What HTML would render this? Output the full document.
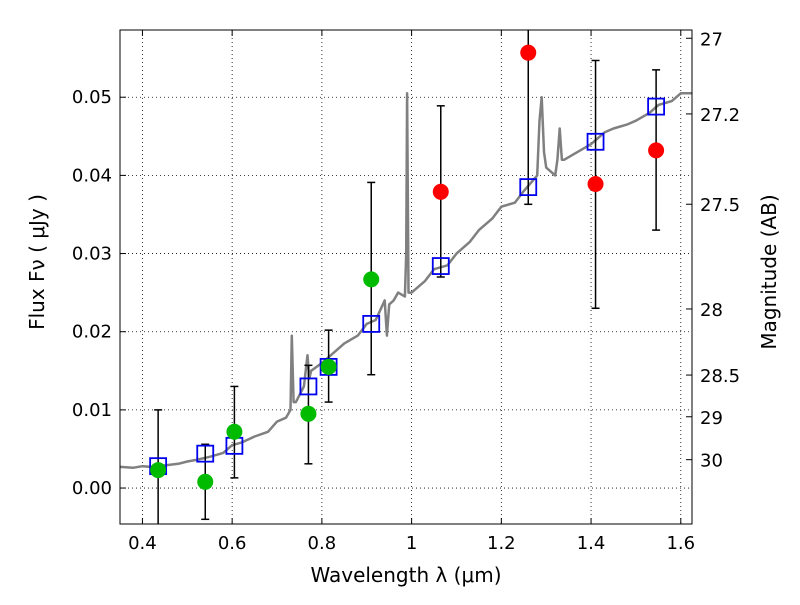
<!DOCTYPE html>
<html><head><meta charset="utf-8"><style>
body{margin:0;background:#fff;}
svg text{font-family:"DejaVu Sans","Liberation Sans",sans-serif;}
</style></head><body>
<svg id="chart" width="800" height="600" xmlns="http://www.w3.org/2000/svg">
<defs><clipPath id="pc"><rect x="120" y="30" width="572" height="494"/></clipPath></defs>
<rect width="800" height="600" fill="#fff"/>
<g id="grid"></g><g id="spec" clip-path="url(#pc)"></g><g id="marks" clip-path="url(#pc)"></g><g id="axes"></g>
</svg>
<script>
const xTicks=[0.4,0.6,0.8,1,1.2,1.4,1.6];
const xTickLabels=["0.4","0.6","0.8","1","1.2","1.4","1.6"];
const yTicks=[0,0.01,0.02,0.03,0.04,0.05];
const yTickLabels=["0.00","0.01","0.02","0.03","0.04","0.05"];
const magTicks=[27,27.2,27.5,28,28.5,29,30];
const magLabels=["27","27.2","27.5","28","28.5","29","30"];
const obsWave=[0.435,0.54,0.605,0.77,0.815,0.91,1.065,1.26,1.41,1.545];
const obsFlux=[0.0023,0.0008,0.0072,0.0095,0.0155,0.0267,0.0379,0.0557,0.0389,0.0432];
const obsHi=[0.0100,0.0056,0.0130,0.0157,0.0202,0.0391,0.0489,0.0760,0.0547,0.0535];
const obsLo=[-0.0060,-0.0040,0.0013,0.0031,0.0110,0.0145,0.0270,0.0363,0.0230,0.0330];
const obsColor=["#00bb00","#00bb00","#00bb00","#00bb00","#00bb00","#00bb00","red","red","red","red"];
const modelFlux=[0.0028,0.0044,0.0054,0.0130,0.0155,0.0210,0.0284,0.0385,0.0443,0.0488];
const specWave=[0.35,0.38,0.4,0.42,0.45,0.48,0.5,0.52,0.55,0.58,0.6,0.62,0.65,0.68,0.7,0.72,0.73,0.733,0.737,0.742,0.76,0.768,0.772,0.776,0.8,0.82,0.85,0.88,0.9,0.92,0.94,0.945,0.95,0.96,0.97,0.985,0.988,0.99,0.993,1.0,1.03,1.05,1.08,1.1,1.13,1.15,1.18,1.2,1.23,1.25,1.28,1.285,1.29,1.295,1.3,1.32,1.325,1.33,1.335,1.34,1.37,1.4,1.43,1.45,1.48,1.5,1.53,1.55,1.58,1.6,1.625];
const specFlux=[0.0027,0.0026,0.0028,0.0027,0.0029,0.0031,0.0034,0.0036,0.0040,0.0045,0.0055,0.0058,0.0066,0.0072,0.0085,0.0090,0.0100,0.0195,0.0110,0.0110,0.0130,0.0170,0.0140,0.0150,0.0160,0.0170,0.0185,0.0195,0.0210,0.0215,0.0240,0.0195,0.0235,0.0240,0.0250,0.0245,0.0300,0.0505,0.0250,0.0250,0.0265,0.0280,0.0285,0.0300,0.0315,0.0330,0.0345,0.0360,0.0365,0.0380,0.0400,0.0470,0.0500,0.0430,0.0410,0.0400,0.0420,0.0460,0.0420,0.0420,0.0430,0.0440,0.0455,0.0460,0.0465,0.0470,0.0480,0.0490,0.0495,0.0505,0.0505];
const L=120,R=692,T=30,B=524,xmin=0.35,xmax=1.625,ymin=-0.0046,ymax=0.0586;
const X=v=>L+(v-xmin)/(xmax-xmin)*(R-L);
const Y=v=>B-(v-ymin)/(ymax-ymin)*(B-T);
const M=m=>Y(Math.pow(10,(23.9-m)/2.5));
const NS="http://www.w3.org/2000/svg";
function mk(p,tag,a,txt){const e=document.createElementNS(NS,tag);for(const k in a)e.setAttribute(k,a[k]);if(txt!==undefined)e.textContent=txt;document.getElementById(p).appendChild(e);return e;}
xTicks.forEach((t,i)=>{
 let g=mk('grid','line',{x1:X(t),x2:X(t),y1:T,y2:B,stroke:'#000','stroke-dasharray':'1,3','stroke-width':0.8});
 
 
 mk('axes','line',{x1:X(t),x2:X(t),y1:B,y2:B-6,stroke:'#000'});
 mk('axes','line',{x1:X(t),x2:X(t),y1:T,y2:T+6,stroke:'#000'});
 let tx=mk('axes','text',{x:X(t),y:B+25,'text-anchor':'middle','font-size':18},xTickLabels[i]);
 
 
});
yTicks.forEach((t,i)=>{
 let g=mk('grid','line',{x1:L,x2:R,y1:Y(t),y2:Y(t),stroke:'#000','stroke-dasharray':'1,3','stroke-width':0.8});
 
 
 mk('axes','line',{x1:L,x2:L+6,y1:Y(t),y2:Y(t),stroke:'#000'});
 let tx=mk('axes','text',{x:L-8,y:Y(t)+6,'text-anchor':'end','font-size':18},yTickLabels[i]);
 
 
});
magTicks.forEach((m,i)=>{
 mk('axes','line',{x1:R,x2:R-6,y1:M(m),y2:M(m),stroke:'#000'});
 let tx=mk('axes','text',{x:R+8,y:M(m)+7,'font-size':18},magLabels[i]);
 
 
});
let d=specWave.map((w,i)=>(i?'L':'M')+X(w).toFixed(1)+','+Y(specFlux[i]).toFixed(1)).join('');
let sp=mk('spec','path',{d:d,fill:'none',stroke:'#808080','stroke-width':2.5,'stroke-linejoin':'round'});


obsWave.forEach((w,i)=>{
 let e=mk('marks','line',{x1:X(w),x2:X(w),y1:Y(obsHi[i]),y2:Y(obsLo[i]),stroke:'#000','stroke-width':1.5});
 
 
 [obsHi[i],obsLo[i]].forEach(v=>mk('marks','line',{x1:X(w)-4,x2:X(w)+4,y1:Y(v),y2:Y(v),stroke:'#000','stroke-width':1.5}));
 let s=mk('marks','rect',{x:X(w)-8,y:Y(modelFlux[i])-8,width:16,height:16,fill:'none',stroke:'#0000ee','stroke-width':1.8});
 
 
 let c=mk('marks','circle',{cx:X(w),cy:Y(obsFlux[i]),r:8,fill:obsColor[i]});
 
 
});
let fr=mk('axes','rect',{x:L,y:T,width:R-L,height:B-T,fill:'none',stroke:'#000','stroke-width':1});


let xl=mk('axes','text',{x:406,y:582,'text-anchor':'middle','font-size':20},'Wavelength  λ (μm)');


let yl=mk('axes','text',{x:0,y:0,transform:'translate(44,262) rotate(-90)','text-anchor':'middle','font-size':20},'Flux  Fν  ( μJy )');


let ml=mk('axes','text',{x:0,y:0,transform:'translate(776,272) rotate(-90)','text-anchor':'middle','font-size':20},'Magnitude (AB)');


</script>
</body></html>
